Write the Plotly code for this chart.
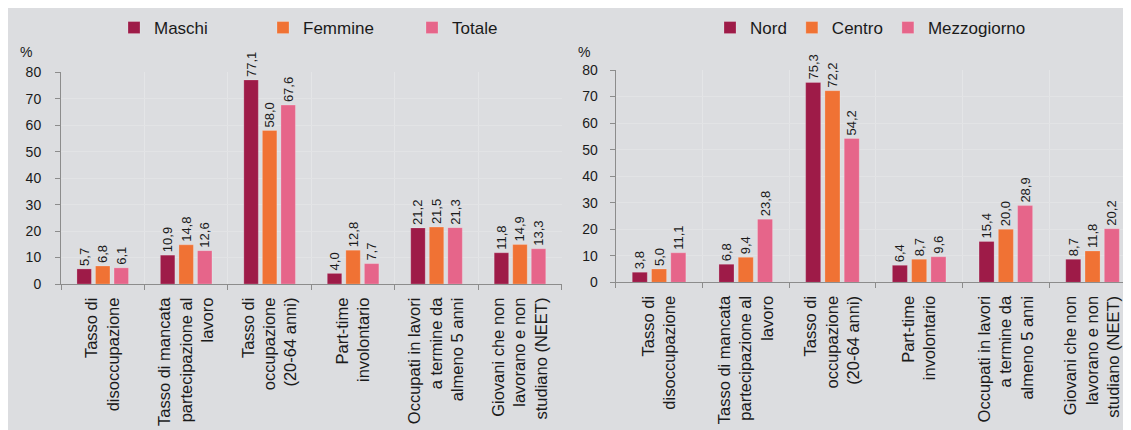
import plotly.graph_objects as go

categories = [
    "Tasso di<br>disoccupazione",
    "Tasso di mancata<br>partecipazione al<br>lavoro",
    "Tasso di<br>occupazione<br>(20-64 anni)",
    "Part-time<br>involontario",
    "Occupati in lavori<br>a termine da<br>almeno 5 anni",
    "Giovani che non<br>lavorano e non<br>studiano (NEET)",
]

maschi = [5.7, 10.9, 77.1, 4.0, 21.2, 11.8]
femmine = [6.8, 14.8, 58.0, 12.8, 21.5, 14.9]
totale = [6.1, 12.6, 67.6, 7.7, 21.3, 13.3]

nord = [3.8, 6.8, 75.3, 6.4, 15.4, 8.7]
centro = [5.0, 9.4, 72.2, 8.7, 20.0, 11.8]
mezzogiorno = [11.1, 23.8, 54.2, 9.6, 28.9, 20.2]

y_ticks = [0, 10, 20, 30, 40, 50, 60, 70, 80]

C1 = "#9e1b48"
C2 = "#f07234"
C3 = "#e6658a"
BG = "#dcdde0"
TXT = "#1a1a1a"
FONT = "Arial, Liberation Sans, sans-serif"

# figure sits inside the page's 8px body margin
W, H = 1123, 422

fig = go.Figure()

def add(name, vals, color, xa, ya, leg):
    fig.add_trace(go.Bar(
        x=categories, y=vals, name=name, marker_color=color,
        marker_line=dict(width=0.6, color="rgba(255,255,255,0.35)"),
        xaxis=xa, yaxis=ya, legend=leg,
        texttemplate="%{y:.1f}", textposition="outside", textangle=-90,
        textfont=dict(size=13, color=TXT, family=FONT),
        cliponaxis=False, constraintext="none", hoverinfo="skip",
    ))

add("Maschi", maschi, C1, "x", "y", "legend")
add("Femmine", femmine, C2, "x", "y", "legend")
add("Totale", totale, C3, "x", "y", "legend")
add("Nord", nord, C1, "x2", "y2", "legend2")
add("Centro", centro, C2, "x2", "y2", "legend2")
add("Mezzogiorno", mezzogiorno, C3, "x2", "y2", "legend2")

xaxis_common = dict(
    type="category", tickson="boundaries", ticks="outside", ticklen=5,
    tickcolor="#8c8c8c", showline=True, linecolor="#8c8c8c", linewidth=1,
    showgrid=True, gridcolor="#e4e5e7", gridwidth=1, tickangle=-90,
    tickfont=dict(size=16.5, color=TXT, family=FONT), zeroline=False,
    automargin=False, ticklabelstandoff=6,
)
yaxis_common = dict(
    range=[0, 80], tickvals=y_ticks, ticks="outside", ticklen=5,
    tickcolor="#8c8c8c", showline=True, linecolor="#8c8c8c", linewidth=1,
    showgrid=True, gridcolor="#e2e3e5", gridwidth=1, zeroline=False,
    tickfont=dict(size=14, color=TXT, family=FONT), automargin=False,
)

left_px = (53, 553.7)
right_px = (607.7, W)
cat_w_right = 86.7
right_range_end = -0.5 + (right_px[1] - right_px[0]) / cat_w_right

fig.update_layout(
    width=W, height=H,
    margin=dict(l=0, r=0, t=0, b=0),
    paper_bgcolor=BG, plot_bgcolor="rgba(0,0,0,0)",
    separators=",.",
    barmode="group", bargap=0.333, bargroupgap=0.22,
    font=dict(family=FONT, color=TXT),
    xaxis=dict(domain=[left_px[0] / W, left_px[1] / W], range=[-0.5, 5.5], **xaxis_common),
    yaxis=dict(domain=[(H - 276) / H, (H - 64.3) / H], anchor="x", ticklabelstandoff=11, **yaxis_common),
    xaxis2=dict(domain=[right_px[0] / W, 1.0], range=[-0.5, right_range_end], anchor="y2", **xaxis_common),
    yaxis2=dict(domain=[(H - 274.3) / H, (H - 62) / H], anchor="x2", ticklabelstandoff=9, **yaxis_common),
    legend=dict(orientation="h", x=106 / W, xanchor="left", y=(H - 20) / H, yanchor="middle",
                bgcolor="rgba(0,0,0,0)", font=dict(size=17, color=TXT, family=FONT),
                entrywidth=104, entrywidthmode="pixels", traceorder="normal"),
    legend2=dict(orientation="h", x=702 / W, xanchor="left", y=(H - 20) / H, yanchor="middle",
                 bgcolor="rgba(0,0,0,0)", font=dict(size=17, color=TXT, family=FONT),
                 traceorder="normal"),
    annotations=[
        dict(text="%", xref="paper", yref="paper", x=18 / W, y=(H - 44) / H, showarrow=False,
             font=dict(size=14, color=TXT, family=FONT), xanchor="center", yanchor="middle"),
        dict(text="%", xref="paper", yref="paper", x=576 / W, y=(H - 44) / H, showarrow=False,
             font=dict(size=14, color=TXT, family=FONT), xanchor="center", yanchor="middle"),
    ],
)

fig.write_html("out.html")
